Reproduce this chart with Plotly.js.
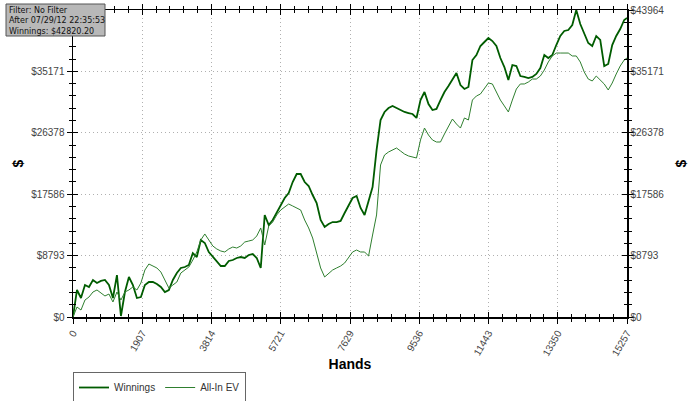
<!DOCTYPE html>
<html><head><meta charset="utf-8">
<script src="https://cdn.plot.ly/plotly-3.0.1.min.js"></script>
<style>html,body{margin:0;padding:0;background:#fff}#chart{width:700px;height:401px;outline:2px solid #6a6a6a;outline-offset:-2px}</style>
</head><body><div id="chart"></div>
<script>
const hands=[0,110,220,330,440,550,660,770,880,990,1100,1210,1320,1430,1540,1650,1760,1870,1980,2090,2200,2310,2420,2530,2640,2750,2860,2970,3080,3190,3300,3410,3520,3630,3740,3850,3960,4070,4180,4290,4400,4510,4620,4730,4840,4950,5060,5170,5280,5390,5500,5610,5720,5830,5940,6050,6160,6270,6380,6490,6600,6710,6820,6930,7040,7150,7260,7370,7480,7590,7700,7810,7920,8030,8140,8250,8360,8470,8580,8690,8800,8910,9020,9130,9240,9350,9460,9570,9680,9790,9900,10010,10120,10230,10340,10450,10560,10670,10780,10890,11000,11110,11220,11330,11440,11550,11660,11770,11880,11990,12100,12210,12320,12430,12540,12650,12760,12870,12980,13090,13200,13310,13420,13530,13640,13750,13860,13970,14080,14190,14300,14410,14520,14630,14740,14850,14960,15070,15180,15257];
const winnings=[0,3870,2720,4580,4300,5300,4870,5160,5300,4580,
2720,6010,140,3580,5730,4580,2720,2860,4580,5010,
5010,4730,4300,3580,3870,5300,6300,7020,7160,7450,
9160,8590,11030,10600,9310,8590,7880,7300,7300,8020,
8160,8450,8590,8450,8880,9020,8450,7020,14610,13170,
13890,14890,16040,17040,17760,19330,20480,20480,19330,18760,
17470,16320,13890,12890,13320,13600,13600,13750,14890,16040,
17040,17330,15610,14610,16750,18620,23910,28210,29360,29930,
30220,29930,29640,29360,29210,29070,28500,31070,32220,30500,
29640,29790,31070,32220,33080,33940,34940,33220,32650,32940,
36800,37520,38810,39380,39950,39520,38810,37090,35800,33940,
36090,35940,34510,34370,34220,34370,34800,35660,37520,37090,
37520,38950,40240,40960,41100,41810,43964,41960,40530,39240,
38810,40240,39670,35940,36230,38950,40240,41240,42530,42820.2];
const allInEV=[0,1430,1000,2430,2860,3580,3870,3440,3010,3290,
2150,3580,2430,3580,3870,4300,3870,4870,6730,7590,
7300,7020,6440,5300,4150,4580,5010,6300,6730,7160,
8160,9310,11030,11890,11030,10170,9740,9450,9310,9740,
10020,9880,10170,10740,10880,11030,11600,12750,10310,13030,
13600,14610,15320,15750,16180,15900,15610,15320,13890,12750,
11310,9310,7020,5730,6300,6730,7020,7300,7730,8450,
9310,9590,9310,9310,8740,11740,14610,21770,23200,23630,
23910,24200,23770,23340,23060,22910,22770,25350,27060,26060,
25350,25060,25060,26210,27350,28350,27640,27060,28500,28210,
31070,31650,31930,32790,33510,33370,32220,31070,30220,29360,
31070,32650,33370,33370,33650,34080,34080,34510,35370,36520,
37380,37800,37800,37800,37800,37380,37380,36520,35080,34080,
33800,34510,33940,33370,32510,33510,34800,35940,36800,37090];
const seriesNames=['Winnings','All-In EV'];
const xTickLabels=['0','1907','3814','5721','7629','9536','11443','13350','15257'];
const yTickValues=[0,8793,17586,26378,35171,43964];
const yTickLabels=['$0','$8793','$17586','$26378','$35171','$43964'];
const infoLines=['Filter: No Filter','After 07/29/12 22:35:53','Winnings: $42820.20'];
const xTitle='Hands', yTitle='$';

const W=700,H=401,M={l:73,r:73,t:10,b:84};
const PW=W-M.l-M.r, PH=H-M.t-M.b;
const px2paperX=p=>(p-M.l)/PW, px2paperY=p=>(H-M.b-p)/PH;

const xMax=15257, yMax=43964;
const xTickValues=xTickLabels.map((s,i)=>i*xMax/8);
// the top left label is hidden under the info box in the original
const yTickLabelsLeft=yTickLabels.map((t,i)=>i===yTickLabels.length-1?'':t);
const tickFont={family:'Liberation Sans, Arial, sans-serif',size:10,color:'#444'};
const titleFont={family:'Liberation Sans, Arial, sans-serif',size:14,color:'#000'};

const traces=[
 {x:hands,y:winnings,name:seriesNames[0],type:'scatter',mode:'lines',line:{color:'#005c00',width:1.8},hoverinfo:'skip'},
 {x:hands,y:allInEV,name:seriesNames[1],type:'scatter',mode:'lines',line:{color:'#2f7f2f',width:1},hoverinfo:'skip'},
 {x:[hands[0]],y:[winnings[0]],xaxis:'x2',yaxis:'y2',mode:'markers',marker:{opacity:0},showlegend:false,hoverinfo:'skip'}
];
const common={showline:true,linecolor:'#000',linewidth:1.5,zeroline:false,tickcolor:'#000',tickwidth:1,mirror:'allticks',fixedrange:true};
const gridStyle={showgrid:true,gridcolor:'#b0b0b0',griddash:'1px,3px',gridwidth:1};
const layout={
 width:W,height:H,paper_bgcolor:'#fff',plot_bgcolor:'#fff',
 margin:M,
 showlegend:true,
 legend:{orientation:'h',x:0,xanchor:'left',xref:'paper',yref:'container',y:1-372/H,yanchor:'top',bordercolor:'#666',borderwidth:1,bgcolor:'#fff',itemwidth:30,
   font:{family:'Liberation Sans, Arial, sans-serif',size:10,color:'#333'}},
 xaxis:Object.assign({},common,gridStyle,{range:[0,xMax],tickmode:'array',tickvals:xTickValues,ticktext:xTickLabels,tickangle:-60,ticks:'outside',ticklen:5,tickfont:tickFont,
   minor:{ticks:'outside',ticklen:3,tickcolor:'#000',tick0:0,dtick:xMax/40,showgrid:false},
   title:{text:'<b>'+xTitle+'</b>',font:titleFont,standoff:9},automargin:false}),
 xaxis2:Object.assign({},common,{overlaying:'x',side:'bottom',anchor:'y',range:[0,xMax],tickmode:'array',tickvals:xTickValues,ticks:'inside',ticklen:5,showticklabels:false,showgrid:false,
   minor:{ticks:'inside',ticklen:3,tickcolor:'#000',tick0:0,dtick:xMax/40,showgrid:false}}),
 yaxis:Object.assign({},common,gridStyle,{range:[0,yMax],tickmode:'array',tickvals:yTickValues,ticktext:yTickLabelsLeft,ticks:'outside',ticklen:5,tickfont:tickFont,
   minor:{ticks:'outside',ticklen:3,tickcolor:'#000',tick0:0,dtick:yMax/25,showgrid:false},
   title:{text:'<b>'+yTitle+'</b>',font:titleFont,standoff:4},automargin:false}),
 yaxis2:Object.assign({},common,{overlaying:'y',side:'right',anchor:'x',range:[0,yMax],tickmode:'array',tickvals:yTickValues,ticktext:yTickLabels,ticks:'inside',ticklen:5,tickfont:tickFont,showgrid:false,
   minor:{ticks:'inside',ticklen:3,tickcolor:'#000',tick0:0,dtick:yMax/25,showgrid:false},
   title:{text:'<b>'+yTitle+'</b>',font:titleFont,standoff:13},automargin:false}),
 shapes:[{type:'rect',xref:'paper',yref:'paper',x0:px2paperX(6),x1:px2paperX(105),y0:px2paperY(4),y1:px2paperY(36),
   fillcolor:'#b8b8b8',line:{color:'#555',width:1},layer:'above'}],
 annotations:[{xref:'paper',yref:'paper',x:px2paperX(8),y:px2paperY(5),xanchor:'left',yanchor:'top',align:'left',showarrow:false,
   text:infoLines.join('<br>'),borderpad:0,font:{family:'DejaVu Sans, Verdana, sans-serif',size:8,color:'#111'}}]
};
Plotly.newPlot('chart',traces,layout,{staticPlot:true,displayModeBar:false});
</script></body></html>
